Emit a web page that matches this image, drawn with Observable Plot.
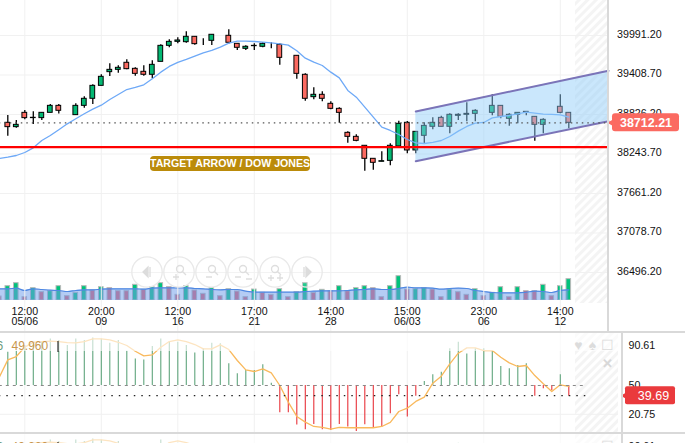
<!DOCTYPE html>
<html><head><meta charset="utf-8">
<script src="https://cdn.jsdelivr.net/npm/d3@7"></script>
<script src="https://cdn.jsdelivr.net/npm/@observablehq/plot@0.6"></script>
<style>
html,body{margin:0;padding:0;background:#fff;overflow:hidden;width:685px;height:443px}
#c{position:relative;width:685px;height:443px;overflow:hidden;font-family:"Liberation Sans",Arial,sans-serif}
.bar{position:absolute;background:#d9d9d9}
.tgt{position:absolute;left:150px;top:156px;width:160px;height:15px;line-height:15px;border-radius:4px;background:#bb8b0a;color:#fff;font-size:10.6px;font-weight:bold;text-align:center;white-space:nowrap;z-index:5}
</style></head><body><div id="c"></div>
<script>
const opens=[38689,38625,38836,38758,38758,38836,38939,38866,38802,38939,39043,39234,39436,39470,39574,39485,39441,39397,39588,39824,39883,39878,39957,39883,39898,39987,39972,39854,39780,39819,39810,39849,39839,39647,39677,39397,39067,39102,38969,38895,38541,38482,38350,38158,38114,38128,38340,38689,38281,38497,38630,38762,38630,38792,38807,38821,38866,38836,38939,38748,38807,38836,38777,38659,38733,38925,38836];
const highs=[38797,38723,38871,38851,38836,38959,38959,38866,38969,39072,39249,39397,39559,39529,39618,39500,39529,39603,39839,39913,39942,40031,39957,39928,39987,39987,40060,39854,39824,39854,39869,39869,39854,39647,39677,39411,39205,39146,38998,38910,38556,38512,38350,38158,38261,38379,38713,38708,38556,38689,38762,38787,38821,38821,38984,38880,38866,39102,38939,38821,38836,38851,38777,38748,38733,39102,38836];
const lows=[38492,38610,38733,38664,38723,38836,38817,38866,38802,38905,38959,39234,39372,39421,39470,39377,39377,39338,39588,39795,39854,39864,39834,39829,39829,39987,39849,39756,39756,39756,39795,39780,39539,39647,39333,39008,39028,38998,38881,38684,38389,38409,37976,37991,38114,38055,38340,38232,38232,38379,38585,38630,38526,38723,38703,38703,38866,38792,38748,38640,38674,38792,38418,38526,38733,38821,38600];
const closes=[38625,38659,38758,38763,38836,38939,38866,38866,38939,39043,39234,39367,39470,39500,39480,39411,39397,39544,39824,39883,39903,39957,39849,39883,39987,39987,39869,39795,39810,39824,39854,39849,39647,39647,39411,39043,39102,39043,38895,38836,38482,38423,38158,38099,38123,38350,38674,38281,38556,38644,38689,38630,38807,38807,38821,38866,38866,38939,38777,38807,38836,38851,38659,38733,38733,38836,38689];
const maLine=[38163,38182,38207,38251,38320,38428,38502,38586,38674,38748,38822,38890,38949,39033,39107,39180,39210,39249,39338,39436,39520,39579,39623,39672,39721,39756,39805,39864,39893,39893,39888,39878,39869,39854,39834,39751,39642,39583,39534,39436,39352,39166,39067,38920,38772,38625,38576,38517,38443,38394,38384,38399,38428,38487,38566,38635,38684,38694,38762,38782,38797,38821,38846,38831,38817,38812,38807,38772];
const volumes=[12,43,52,10,37,25,28,43,13,23,43,30,40,37,28,28,47,32,40,52,40,17,43,30,20,37,13,34,27,10,33,23,17,34,10,25,52,23,32,28,43,28,37,43,37,10,43,73,33,34,37,33,10,33,25,17,34,13,23,40,10,40,28,28,47,13,43,64];
const volKind="rggrgrggrggrgrrrgrggrrgrrgrgrrgrrgrggrgrgrggrrggrggrrgrrgrggrgrrgrgg";
const volMa=[35,35,37,30,35,33,31,30,27,30,32,32,34,35,35,35,35,34,37,38,38,38,38,36,35,33,32,33,33,28,25,25,25,25,25,25,27,28,29,29,29,30,32,33,35,33,33,36,40,38,38,37,34,36,37,36,30,27,24,23,23,23,25,28,27,24,30,32];
const rsiBars=[83.8,84.8,90.6,92.9,93.9,97.3,95.6,90.6,97.3,95.6,98.3,97.3,92.9,95.6,84.8,77,76,89.5,97.3,93.9,93.9,90.6,83.1,87.2,92.9,92.3,72,61.8,65.2,65.2,71,52.4,22.3,22.3,9.8,5,10.5,5,4.4,10.5,7.8,3.4,10.1,6.7,7.8,21.3,40.5,17.9,39.2,54.1,60.8,63.5,87.2,93.9,82.1,87.2,87.2,84.8,69.3,66.9,70.3,72,39.2,46.6,44.9,60.8,39.2];
const rsiLine=[58.5,76,79.4,88.9,93.9,94.6,95,94.6,93.6,93.3,94.6,97.3,97.3,96.3,93.9,90.6,84.8,80.1,81.1,88.9,94.6,96.3,94.6,91.6,87.2,87.2,91.2,86.5,75.4,65.9,64.2,66.9,62.8,50,33.1,18.6,12.8,8.4,7.4,5.7,7.4,7.1,7.1,7.1,7.1,8.4,12.5,23.6,27,33.8,38.2,52.4,59.5,72,82.8,88.2,88.2,85.5,85.5,78.7,73,69.3,70.3,60.1,51.7,43.9,50.7,49];
const priceTicks=[39991.2,39408.7,38826.2,38243.7,37661.2,37078.7,36496.2];
const timeIdx=[2,11,20,29,38,47,56,65];
const timeTop=["12:00","20:00","12:00","17:00","14:00","15:00","23:00","14:00"];
const timeBot=["05/06","09","16","21","28","06/03","06","12"];
const rsiTicks=[90.61,50,20.75];
const channelX=[48,70.67];
const channelUp=[38856,39456];
const channelLo=[38123,38713];
const targetPrice=38330, lastLevel=38689, lastLabel="38712.21";
const rsiLast=39.69;

const font='"Liberation Sans",Arial,sans-serif';
const X={domain:[0,66],range:[7.3,568.3]};
const PX=p=>(p-7.3)/8.5;
const c=document.getElementById("c");
const idx=d3.range(67), idxL=d3.range(-1,67);
const add=(el,top)=>{el.style.position="absolute";el.style.left="0";el.style.top=top+"px";el.style.background="transparent";el.style.overflow="hidden";c.appendChild(el);return el};
const hatch=(svg,id)=>{const s=d3.select(svg).append("defs").append("pattern").attr("id",id).attr("width",6).attr("height",6).attr("patternUnits","userSpaceOnUse").attr("patternTransform","rotate(45)");s.append("rect").attr("width",3).attr("height",6).attr("fill","#f4f4f4")};

add(Plot.plot({width:685,height:50,margin:0,x:X,y:{domain:[0,150],range:[50,0]},style:{background:"transparent"},axis:null,marks:[
  Plot.rect(idxL,{x1:d=>d-.27,x2:d=>d+.27,y1:0,y2:d=>volumes[d+1],fill:d=>volKind[d+1]=="g"?"#00c27c":"#de5f6e",stroke:"#b9b9b9",strokeWidth:1}),
  Plot.areaY(idxL,{x:d=>d,y:d=>volMa[d+1],fill:"#6f9eea",fillOpacity:.52,curve:"monotone-x"}),
  Plot.lineY(idxL,{x:d=>d,y:d=>volMa[d+1],stroke:"#4f88e2",strokeWidth:1.2,curve:"monotone-x"})
]}),250);

const main=add(Plot.plot({width:685,height:332,margin:0,x:X,y:{domain:[39991.2,36496.2],range:[34,271]},style:{background:"transparent"},axis:null,marks:[
  Plot.rect([0],{x1:PX(575),x2:PX(607),y1:39991.2+34*14.747,y2:39991.2-269*14.747,fill:"url(#h1)"}),
  Plot.ruleY(priceTicks,{x1:-1,x2:70.67,stroke:"#f1f1f1",dy:1}),
  Plot.ruleX(timeIdx,{stroke:"#f1f1f1"}),
  Plot.ruleX(idx.filter(i=>highs[i]>lows[i]),{x:d=>d,y1:d=>highs[d],y2:d=>lows[d],stroke:"#000",strokeWidth:1.3}),
  Plot.rect(idx,{x1:d=>d-.28,x2:d=>d+.28,y1:d=>opens[d],y2:d=>closes[d],
    fill:d=>closes[d]>opens[d]?"#03b873":closes[d]<opens[d]?"#fb6a61":"#000",
    stroke:d=>highs[d]==lows[d]?"#777":"#000",strokeWidth:1}),
  Plot.line(idxL,{x:d=>d,y:d=>maLine[d+1],stroke:"#6ea9f7",strokeWidth:1.3}),
  Plot.areaY([0,1],{x:d=>channelX[d],y1:d=>channelLo[d],y2:d=>channelUp[d],fill:"#8ecbf9",fillOpacity:.47}),
  Plot.line([0,1],{x:d=>channelX[d],y:d=>channelUp[d],stroke:"#7b74b8",strokeWidth:2}),
  Plot.line([0,1],{x:d=>channelX[d],y:d=>channelLo[d],stroke:"#7b74b8",strokeWidth:2}),
  Plot.ruleY([lastLevel],{x1:-1,x2:70.67,stroke:"#555",strokeDasharray:"1.5 4",strokeWidth:1.2}),
  Plot.ruleY([targetPrice],{x1:-1,x2:70.67,stroke:"#ff0000",strokeWidth:2.2}),
  Plot.text(priceTicks,{x:PX(616.5),y:d=>d,text:d=>d.toFixed(2),textAnchor:"start",fontSize:10.7,fontFamily:font,fill:"#111"}),
  Plot.text(timeIdx,{x:d=>d,text:(d,i)=>timeTop[i],frameAnchor:"top",dy:307,fontSize:10.6,fontFamily:font,fill:"#111",lineAnchor:"top"}),
  Plot.text(timeIdx,{x:d=>d,text:(d,i)=>timeBot[i],frameAnchor:"top",dy:316.5,fontSize:10.6,fontFamily:font,fill:"#111",lineAnchor:"top"}),
  Plot.rect([0],{x1:PX(612),x2:PX(679),y1:lastLevel+9*14.747,y2:lastLevel-9*14.747,fill:"#fb6a61",rx:3}),
  Plot.dot([0],{x:PX(611.5),y:lastLevel,symbol:"triangle",r:3,fill:"#fb6a61",rotate:-90}),
  Plot.text([lastLabel],{x:PX(645.5),y:lastLevel,text:d=>d,fill:"#fff",fontSize:12.5,fontFamily:font,fontWeight:"bold",letterSpacing:".2px"})
]}),0);
hatch(main,"h1");

function rsi(top,hid){
 const svg=add(Plot.plot({width:685,height:100,margin:0,x:X,y:{domain:[90.61,20.75],range:[13,81.8]},style:{background:"transparent"},axis:null,marks:[
  Plot.rect([0],{x1:PX(575),x2:PX(618),y1:90.61+13*1.015,y2:90.61-87*1.015,fill:`url(#${hid})`}),
  Plot.ruleX(timeIdx,{stroke:"#f1f1f1"}),
  Plot.ruleY([20.75],{x1:-1,x2:PX(618),stroke:"#f1f1f1"}),
  Plot.ruleX(idx,{x:d=>d,y1:50,y2:d=>rsiBars[d],stroke:d=>rsiBars[d]>=50?"#5fa57c":"#e8333a",strokeWidth:1.1}),
  Plot.line(idxL,{x:d=>d,y:d=>rsiLine[d+1],stroke:"#f9b95c",strokeWidth:1.3}),
  Plot.ruleY([50],{x1:-1,x2:68,stroke:"#888",strokeDasharray:"3 4"}),
  Plot.ruleY([rsiLast],{x1:-1,x2:68,stroke:"#222",strokeDasharray:"1.5 6",strokeWidth:1.1}),
  Plot.rect([0],{x1:PX(-2),x2:PX(618),y1:90.61+13*1.015,y2:90.61-6*1.015,fill:"#fff",fillOpacity:.62}),
  Plot.text(["49.960"],{x:PX(11),y:90.61-1,text:d=>d,textAnchor:"start",fill:"#c8964d",fontSize:12,fontFamily:font}),
  Plot.text(["6"],{x:PX(-4),y:90.61-1,text:d=>d,textAnchor:"start",fill:"#6a9a7a",fontSize:12,fontFamily:font}),
  Plot.ruleX([PX(57.5)],{y1:90.61+4*1.015,y2:90.61-7*1.015,stroke:"#000",strokeWidth:1}),
  Plot.text(["♥"],{x:PX(578),y:90.61,text:d=>d,fill:"#dcdcdc",fontSize:14}),
  Plot.text(["♠"],{x:PX(592),y:90.61,text:d=>d,fill:"#dcdcdc",fontSize:14}),
  Plot.text(["☐"],{x:PX(607),y:90.61,text:d=>d,fill:"#dcdcdc",fontSize:14}),
  Plot.text(["✕"],{x:PX(607),y:90.61-18*1.015,text:d=>d,fill:"#d8d8d8",fontSize:13,fontWeight:"bold"}),
  Plot.text(rsiTicks,{x:PX(628),y:d=>d,text:d=>d,textAnchor:"start",fontSize:10.7,fontFamily:font,fill:"#111"}),
  Plot.rect([0],{x1:PX(625),x2:PX(675),y1:rsiLast+9*1.015,y2:rsiLast-9*1.015,fill:"#ea3a3d",rx:2}),
  Plot.dot([0],{x:PX(625),y:rsiLast,symbol:"triangle",r:3,fill:"#ea3a3d",rotate:-90}),
  Plot.text([rsiLast],{x:PX(653),y:rsiLast,text:d=>d.toFixed(2),fill:"#fff",fontSize:12.5,fontFamily:font,fontWeight:500,letterSpacing:".3px"})
 ]}),top);
 hatch(svg,hid);
}
rsi(332,"h2");
rsi(433,"h3");

[[0,331,685,2],[0,431.5,685,2],[607,0,2,331],[621,332,2,111]].forEach(([l,t,w,h])=>{const d=document.createElement("div");d.className="bar";d.style.cssText+=`left:${l}px;top:${t}px;width:${w}px;height:${h}px`;c.appendChild(d)});

const t=document.createElement("div");t.className="tgt";t.textContent="TARGET ARROW / DOW JONES";c.appendChild(t);

const cx=[147,179,211,243,275,307], icons=[
 '<path d="M-4 0L1-5V5Z M3-5V5" fill="#dcdcdc" stroke="#dcdcdc"/>',
 '<circle cx="1" cy="-3" r="3.5"/><path d="M3-1L7 3M-6 5H0M-3 2V8"/>',
 '<circle cx="1" cy="-3" r="3.5"/><path d="M3-1L7 3M-5 5H1"/>',
 '<circle cx="0" cy="-3" r="3.5"/><path d="M2-1L6 3M-8 5H-2M3 7H9"/>',
 '<circle cx="0" cy="-3" r="3.5"/><path d="M2-1L6 3M-7 6H-1M-4 3V9M2 6H8M5 3V9"/>',
 '<path d="M4 0L-1-5V5Z M-3-5V5" fill="#dcdcdc" stroke="#dcdcdc"/>'];
const ov=document.createElementNS("http://www.w3.org/2000/svg","svg");
ov.setAttribute("width",685);ov.setAttribute("height",332);ov.style.cssText="position:absolute;left:0;top:0";
ov.innerHTML=cx.map((x,i)=>`<g transform="translate(${x},272)" fill="none" stroke="#dedede" stroke-width="1.3"><circle r="15.2" stroke="#e9e9e9" fill="#fff" fill-opacity=".15"/>${icons[i]}</g>`).join("");
c.appendChild(ov);
</script></body></html>
